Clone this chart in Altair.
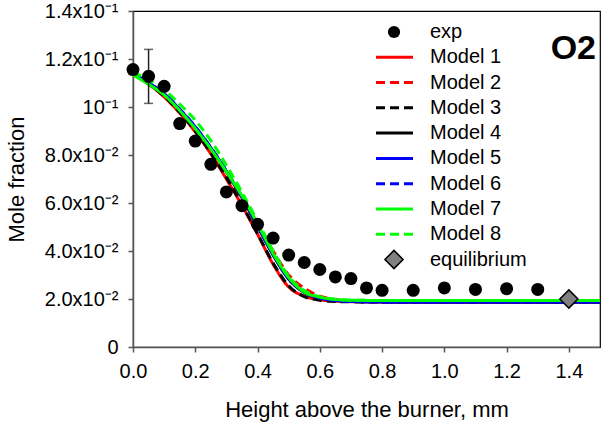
import altair as alt
import pandas as pd

# ---------------- data ----------------
exp_x = [0.0, 0.05, 0.1, 0.15, 0.2, 0.25, 0.3, 0.35, 0.4, 0.45, 0.5, 0.55, 0.6,
         0.65, 0.7, 0.75, 0.8, 0.9, 1.0, 1.1, 1.2, 1.3]
exp_y = [0.1156, 0.1128, 0.1086, 0.0931, 0.0858, 0.0761, 0.0646, 0.0589, 0.0511,
         0.0454, 0.0383, 0.0352, 0.0323, 0.0292, 0.0285, 0.0246, 0.0236, 0.0236,
         0.0246, 0.0240, 0.0243, 0.0240]
err_x = [0.05]
err_lo = [0.1015]
err_hi = [0.1240]

eq_x = [1.4]
eq_y = [0.0200]

model_x = [0.0, 0.05, 0.1, 0.15, 0.2, 0.25, 0.3, 0.35, 0.4, 0.45, 0.5, 0.55, 0.6,
           0.65, 0.7, 0.8, 0.9, 1.0, 1.2, 1.5]
model_1 = [0.1135, 0.1095, 0.1042, 0.0975, 0.0896, 0.0805, 0.0700, 0.0590, 0.0470, 0.0345,
           0.0250, 0.0212, 0.0197, 0.0191, 0.0189, 0.0187, 0.0187, 0.0187, 0.0187, 0.0187]
model_2 = [0.1137, 0.1098, 0.1048, 0.0983, 0.0905, 0.0818, 0.0720, 0.0615, 0.0505, 0.0400,
           0.0300, 0.0245, 0.0212, 0.0198, 0.0192, 0.0189, 0.0188, 0.0188, 0.0188, 0.0188]
model_3 = [0.1137, 0.1097, 0.1045, 0.0978, 0.0900, 0.0808, 0.0705, 0.0592, 0.0472, 0.0350,
           0.0255, 0.0210, 0.0195, 0.0190, 0.0188, 0.0187, 0.0187, 0.0187, 0.0187, 0.0187]
model_4 = [0.1138, 0.1100, 0.1054, 0.0988, 0.0914, 0.0828, 0.0730, 0.0622, 0.0503, 0.0383,
           0.0283, 0.0227, 0.0204, 0.0194, 0.0190, 0.0188, 0.0187, 0.0187, 0.0187, 0.0187]
model_5 = [0.1139, 0.1101, 0.1056, 0.0990, 0.0917, 0.0830, 0.0732, 0.0625, 0.0505, 0.0385,
           0.0285, 0.0228, 0.0204, 0.0194, 0.0190, 0.0188, 0.0187, 0.0187, 0.0187, 0.0187]
model_6 = [0.1140, 0.1102, 0.1057, 0.0992, 0.0918, 0.0832, 0.0734, 0.0628, 0.0508, 0.0388,
           0.0288, 0.0230, 0.0205, 0.0195, 0.0190, 0.0188, 0.0187, 0.0187, 0.0187, 0.0187]
model_7 = [0.1133, 0.1095, 0.1050, 0.0985, 0.0910, 0.0825, 0.0730, 0.0630, 0.0514, 0.0390,
           0.0290, 0.0229, 0.0208, 0.0198, 0.0195, 0.0194, 0.0194, 0.0194, 0.0194, 0.0194]
model_8 = [0.1146, 0.1112, 0.1072, 0.1012, 0.0945, 0.0860, 0.0757, 0.0645, 0.0525, 0.0400,
           0.0295, 0.0235, 0.0210, 0.0199, 0.0195, 0.0194, 0.0194, 0.0194, 0.0194, 0.0194]

model_names = ["Model 1", "Model 2", "Model 3", "Model 4",
               "Model 5", "Model 6", "Model 7", "Model 8"]
model_colors = ["#ff0000", "#ff0000", "#000000", "#000000",
                "#0000ff", "#0000ff", "#00ff00", "#00ff00"]
model_dashes = [[1, 0], [9, 5], [9, 5], [1, 0], [1, 0], [9, 5], [1, 0], [9, 5]]

legend_labels = ["exp"] + model_names + ["equilibrium"]

y_ticks = [0, 0.02, 0.04, 0.06, 0.08, 0.10, 0.12, 0.14]
y_tick_labels = ["0", "2.0x10⁻²", "4.0x10⁻²", "6.0x10⁻²", "8.0x10⁻²",
                 "10⁻¹", "1.2x10⁻¹", "1.4x10⁻¹"]
x_ticks = [0.0, 0.2, 0.4, 0.6, 0.8, 1.0, 1.2, 1.4]

species_label = ["O2"]

# ---------------- tables ----------------
all_models = [model_1, model_2, model_3, model_4, model_5, model_6, model_7, model_8]
rows = []
for name, vals in zip(model_names, all_models):
    for xv, yv in zip(model_x, vals):
        rows.append({"x": xv, "y": yv, "model": name})
models_df = pd.DataFrame(rows)
exp_df = pd.DataFrame({"x": exp_x, "y": exp_y})
err_df = pd.DataFrame({"x": err_x, "lo": err_lo, "hi": err_hi})
eq_df = pd.DataFrame({"x": eq_x, "y": eq_y})

FONT = "Liberation Sans"
W, H = 467, 336

xscale = alt.Scale(domain=[0, 1.5], nice=False)
yscale = alt.Scale(domain=[0, 0.14], nice=False)

label_expr = "[" + ",".join("'%s'" % s for s in y_tick_labels) + "][round(datum.value*50)]"

axis_style = dict(labelFont=FONT, titleFont=FONT, labelFontSize=20, titleFontSize=22,
                  labelColor="black", titleColor="black", titleFontWeight="normal",
                  domainColor="#555555", domainWidth=1.5, tickColor="#555555",
                  tickWidth=1.5, labelFlush=False, labelOverlap=False, grid=False,
                  tickSize=5)

X = alt.X("x:Q", scale=xscale,
          axis=alt.Axis(values=x_ticks, format=".1f", title="Height above the burner, mm",
                        labelPadding=9, titleY=62, titleBaseline="middle", **axis_style))
Y = alt.Y("y:Q", scale=yscale,
          axis=alt.Axis(values=y_ticks, labelExpr=label_expr, title="Mole fraction",
                        labelPadding=10, titleX=-117, titleY=H / 2,
                        titleBaseline="middle", titleAlign="center", titleAngle=270,
                        **axis_style))

color_enc = alt.Color("model:N", scale=alt.Scale(domain=model_names, range=model_colors),
                      legend=None)
dash_enc = alt.StrokeDash("model:N", scale=alt.Scale(domain=model_names, range=model_dashes),
                          legend=None)

lines = alt.Chart(models_df).mark_line(strokeWidth=3, interpolate="monotone").encode(
    x=X, y=Y, color=color_enc, strokeDash=dash_enc, order=alt.Order("x:Q"))

err_rule = alt.Chart(err_df).mark_rule(color="#222222", strokeWidth=1.5).encode(
    x=alt.X("x:Q", scale=xscale), y=alt.Y("lo:Q", scale=yscale), y2="hi:Q")
err_cap_lo = alt.Chart(err_df).mark_tick(color="#222222", orient="horizontal", size=9,
                                         thickness=1.5).encode(
    x=alt.X("x:Q", scale=xscale), y=alt.Y("lo:Q", scale=yscale))
err_cap_hi = alt.Chart(err_df).mark_tick(color="#222222", orient="horizontal", size=9,
                                         thickness=1.5).encode(
    x=alt.X("x:Q", scale=xscale), y=alt.Y("hi:Q", scale=yscale))

points = alt.Chart(exp_df).mark_point(shape="circle", filled=True, color="black",
                                      size=169, opacity=1).encode(
    x=alt.X("x:Q", scale=xscale), y=alt.Y("y:Q", scale=yscale))

eq = alt.Chart(eq_df).mark_point(shape="diamond", filled=True, fill="#808080",
                                 stroke="black", strokeWidth=1.5, size=330, opacity=1).encode(
    x=alt.X("x:Q", scale=xscale), y=alt.Y("y:Q", scale=yscale))

main = alt.layer(lines, err_rule, err_cap_lo, err_cap_hi, points, eq)

# ---------------- legend ----------------
leg_y_scale = alt.Scale(type="point", domain=legend_labels, range=[21, 248.5], padding=0)
leg_df = pd.DataFrame({"label": legend_labels})
leg_models_df = pd.DataFrame({"label": model_names, "model": model_names})

leg_text = alt.Chart(leg_df).mark_text(align="left", baseline="middle", font=FONT,
                                       fontSize=20, color="black").encode(
    x=alt.value(297), y=alt.Y("label:N", scale=leg_y_scale, axis=None), text="label:N")
leg_lines = alt.Chart(leg_models_df).mark_rule(strokeWidth=3).encode(
    x=alt.value(243), x2=alt.value(280),
    y=alt.Y("label:N", scale=leg_y_scale, axis=None),
    color=color_enc, strokeDash=dash_enc)
leg_exp = alt.Chart(pd.DataFrame({"label": ["exp"]})).mark_point(
    shape="circle", filled=True, color="black", size=150, opacity=1).encode(
    x=alt.value(261), y=alt.Y("label:N", scale=leg_y_scale, axis=None))
leg_eq = alt.Chart(pd.DataFrame({"label": ["equilibrium"]})).mark_point(
    shape="diamond", filled=True, fill="#808080", stroke="black", strokeWidth=1.5,
    size=330, opacity=1).encode(
    x=alt.value(261), y=alt.Y("label:N", scale=leg_y_scale, axis=None))

legend = alt.layer(leg_lines, leg_exp, leg_eq, leg_text)

species = alt.Chart(pd.DataFrame({"t": species_label})).mark_text(
    align="right", baseline="alphabetic", font=FONT, fontSize=34, fontWeight="bold",
    color="black").encode(x=alt.value(463), y=alt.value(48), text="t:N")

chart = alt.layer(main, legend, species).resolve_scale(y="independent").properties(
    width=W, height=H,
    background="white",
    autosize=alt.AutoSizeParams(type="none"),
    padding={"left": 133, "top": 11, "right": 5, "bottom": 78},
).configure_view(stroke="black", strokeWidth=1.2)

chart.save("out.html", embed_options={"renderer": "svg", "actions": False})
